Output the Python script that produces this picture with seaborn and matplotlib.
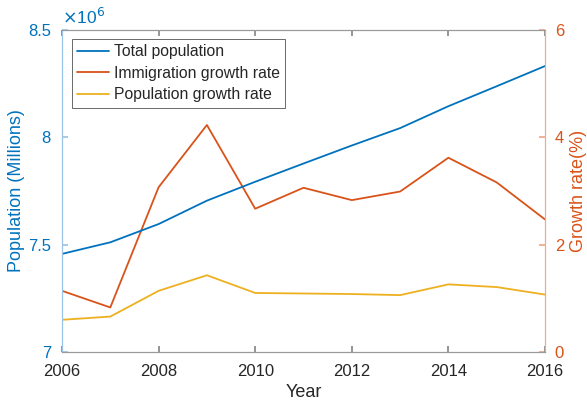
import matplotlib
matplotlib.use("Agg")
import matplotlib.pyplot as plt
import seaborn as sns
import pandas as pd
from matplotlib.ticker import FuncFormatter

years = [2006, 2007, 2008, 2009, 2010, 2011, 2012, 2013, 2014, 2015, 2016]
total_population = [7.457e6, 7.511e6, 7.596e6, 7.705e6, 7.793e6, 7.878e6, 7.962e6, 8.043e6, 8.145e6, 8.238e6, 8.332e6]
immigration_rate = [1.14, 0.83, 3.07, 4.23, 2.67, 3.06, 2.83, 2.99, 3.62, 3.16, 2.47]
population_rate = [0.60, 0.66, 1.14, 1.43, 1.10, 1.09, 1.08, 1.06, 1.26, 1.21, 1.07]

BLUE = "#0072BD"
ORANGE = "#D95319"
YELLOW = "#EDB120"
DARK = "#262626"

sns.set_theme(style="white")
plt.rcParams["font.family"] = ["Liberation Sans", "DejaVu Sans"]

df = pd.DataFrame({"Year": years, "Total": total_population,
                   "Imm": immigration_rate, "Pop": population_rate})

fig = plt.figure(figsize=(5.87, 4.07), dpi=100)
ax = fig.add_axes([62/587, 1 - 352/407, (545-62)/587, (352-30)/407])
ax2 = ax.twinx()

sns.lineplot(data=df, x="Year", y="Total", ax=ax, color=BLUE, lw=1.3, label="Total population", legend=False)
sns.lineplot(data=df, x="Year", y="Imm", ax=ax2, color=ORANGE, lw=1.3, label="Immigration growth rate", legend=False)
sns.lineplot(data=df, x="Year", y="Pop", ax=ax2, color=YELLOW, lw=1.3, label="Population growth rate", legend=False)

ax.set_xlim(2006, 2016)
ax.set_ylim(7e6, 8.5e6)
ax2.set_ylim(0, 6)
ax.set_xticks([2006, 2008, 2010, 2012, 2014, 2016])
ax.set_yticks([7e6, 7.5e6, 8e6, 8.5e6])
ax.yaxis.set_major_formatter(FuncFormatter(lambda v, p: f"{v/1e6:g}"))
ax2.set_yticks([0, 2, 4, 6])

ax.set_xlabel("Year", fontsize=13, color=DARK, labelpad=3)
ax.set_ylabel("Population (Millions)", fontsize=13, color=BLUE, labelpad=2)
ax2.set_ylabel("Growth rate(%)", fontsize=13, color=ORANGE, labelpad=4)

ax.tick_params(axis="x", direction="in", length=4, labelsize=12, colors="#888888", labelcolor=DARK, top=True, bottom=True, pad=9)
ax.tick_params(axis="y", direction="in", length=4, labelsize=12, colors="#9cc3e6", labelcolor=BLUE, pad=8)
ax2.tick_params(axis="y", direction="in", length=4, labelsize=12, colors="#f0a98c", labelcolor=ORANGE, pad=7)

for a in (ax, ax2):
    for s in a.spines.values():
        s.set_linewidth(0.8)
    a.spines["top"].set_color("#9a9a9a")
    a.spines["bottom"].set_color("#9a9a9a")
    a.spines["left"].set_color("#9cc3e6")
    a.spines["right"].set_color("#f0a98c")
ax.set_zorder(ax2.get_zorder() + 1)
ax.patch.set_visible(False)

ax.text(0.0, 1.01, r"$\times$10$^{6}$", transform=ax.transAxes, color=BLUE, fontsize=12.5, ha="left", va="bottom")

h1, l1 = ax.get_legend_handles_labels()
h2, l2 = ax2.get_legend_handles_labels()
leg = ax.legend(h1 + h2, l1 + l2, loc="upper left", bbox_to_anchor=(10/483, 1 - 9/322),
                fontsize=11.3, frameon=True, fancybox=False, handlelength=2.0, handletextpad=0.3,
                borderpad=0.35, labelspacing=0.4, borderaxespad=0)
leg.get_frame().set_edgecolor("#262626")
leg.get_frame().set_linewidth(0.6)
for t in leg.get_texts():
    t.set_color(DARK)

fig.savefig("out.png", dpi=100)
